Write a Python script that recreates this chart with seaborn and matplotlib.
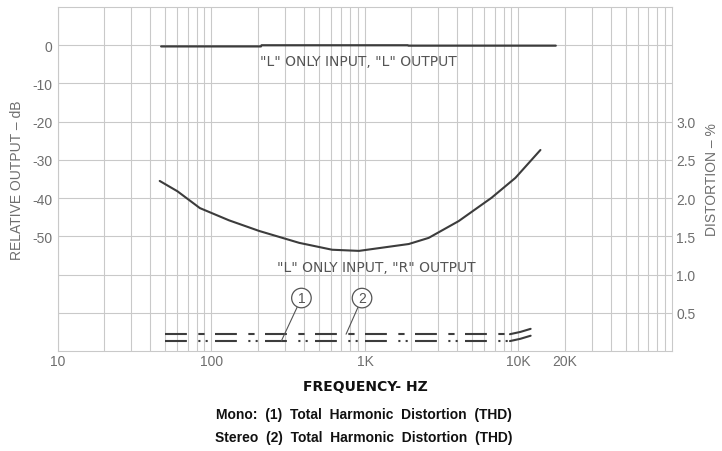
import numpy as np
import pandas as pd
import matplotlib
matplotlib.use("Agg")
import matplotlib.pyplot as plt
from matplotlib.ticker import LogLocator, NullFormatter
import seaborn as sns

# ---- data -------------------------------------------------------------
# "L" only input, "L" output (dB)
ll_freq = [47, 210, 212, 1900, 1920, 17500]
ll_db = [-0.3, -0.3, 0.0, 0.0, -0.1, -0.1]

# "L" only input, "R" output - crosstalk (dB)
lr_freq = [46, 60, 84, 130, 205, 373, 611, 914, 1930, 2600, 4080, 6680, 9550, 13900]
lr_db = [-35.5, -38.2, -42.6, -45.8, -48.6, -51.7, -53.5, -53.8, -52.0, -50.4,
         -46.0, -39.9, -34.7, -27.4]

# THD (%) : mono (1) and stereo (2)
thd_freq = [50, 1000, 8800, 10300, 12000]
thd_mono = [0.13, 0.13, 0.13, 0.16, 0.20]
thd_stereo = [0.22, 0.22, 0.22, 0.25, 0.29]

# axis ticks
x_ticks = [10, 100, 1000, 10000, 20000]
x_labels = ["10", "100", "1K", "10K", "20K"]
db_ticks = [-70, -60, -50, -40, -30, -20, -10, 0]
db_labels = ["", "", "-50", "-40", "-30", "-20", "-10", "0"]
pct_ticks = [0.5, 1.0, 1.5, 2.0, 2.5, 3.0]
pct_labels = ["0.5", "1.0", "1.5", "2.0", "2.5", "3.0"]

# ---- style ------------------------------------------------------------
sns.set_style("white")
plt.rcParams["font.family"] = ["Liberation Sans", "DejaVu Sans"]

GRID = "#c9c9c9"
INK = "#3c3c3c"
TXT = "#6e6e6e"
NOTE = "#555555"
W, H = 722, 452


def fig_xy(px, py):
    """Pixel position (from top-left) to figure fraction."""
    return px / W, 1 - py / H


fig = plt.figure(figsize=(W / 100, H / 100), dpi=100)
ax = fig.add_axes([0.0803, 0.2212, 0.8504, 0.761])

ax.set_xscale("log")
ax.set_xlim(10, 1e5)
ax.set_ylim(-80, 10)

ax.set_xticks(x_ticks)
ax.set_xticklabels(x_labels)
ax.xaxis.set_minor_locator(LogLocator(base=10, subs=np.arange(2, 10), numticks=20))
ax.xaxis.set_minor_formatter(NullFormatter())
ax.set_yticks(db_ticks)
ax.set_yticklabels(db_labels)

ax.grid(True, which="both", axis="x", color=GRID, lw=0.8)
ax.grid(True, which="major", axis="y", color=GRID, lw=0.8)
ax.tick_params(which="both", length=0, colors=TXT, labelsize=10)
ax.tick_params(axis="x", pad=2)
ax.tick_params(axis="y", pad=4)
for s in ax.spines.values():
    s.set_color(GRID)
    s.set_linewidth(0.8)

# response curves
ll = pd.DataFrame({"f": ll_freq, "db": ll_db})
lr = pd.DataFrame({"f": lr_freq, "db": lr_db})
sns.lineplot(data=ll, x="f", y="db", ax=ax, color=INK, lw=1.6, sort=False)
sns.lineplot(data=lr, x="f", y="db", ax=ax, color=INK, lw=1.5, sort=False)

ax.set_xlabel("FREQUENCY- HZ", fontsize=10, fontweight="bold", color="#111111",
              family="DejaVu Sans", labelpad=8)
ax.set_ylabel("RELATIVE OUTPUT \u2013 dB", fontsize=10, color=TXT, labelpad=6)

# distortion scale on the right
ax2 = ax.twinx()
ax2.set_ylim(0, 4.5)
ax2.set_yticks(pct_ticks)
ax2.set_yticklabels(pct_labels)
ax2.tick_params(length=0, colors=TXT, labelsize=10, pad=3)
ax2.grid(False)
for s in ax2.spines.values():
    s.set_visible(False)

thd = pd.DataFrame({"f": thd_freq, "mono": thd_mono, "stereo": thd_stereo})
head = thd.iloc[:3]
tail = thd.iloc[2:]
sns.lineplot(data=head, x="f", y="stereo", ax=ax2, color=INK, lw=1.5,
             linestyle=(0, (10.5, 5.5, 3.0, 5.0)))
sns.lineplot(data=head, x="f", y="mono", ax=ax2, color=INK, lw=1.5,
             linestyle=(0, (10.5, 5.5, 1.0, 2.5, 1.0, 3.5)))
sns.lineplot(data=tail, x="f", y="stereo", ax=ax2, color=INK, lw=1.5)
sns.lineplot(data=tail, x="f", y="mono", ax=ax2, color=INK, lw=1.5)
ax2.set_xlabel("")
ax2.set_ylabel("DISTORTION \u2013 %", fontsize=10, color=TXT, labelpad=7)

fig.text(*fig_xy(358, 62), '"L" ONLY INPUT, "L" OUTPUT', fontsize=10,
         family="DejaVu Sans", color=NOTE, ha="center", va="center")
fig.text(*fig_xy(376, 268), '"L" ONLY INPUT, "R" OUTPUT', fontsize=10,
         family="DejaVu Sans", color=NOTE, ha="center", va="center")

# circled markers with leaders
circ = dict(boxstyle="circle,pad=0.2", fc="white", ec=NOTE, lw=0.9)
lead = dict(arrowstyle="-", color=NOTE, lw=0.8, shrinkA=0, shrinkB=0)
ax2.annotate("1", xy=(285, thd_mono[0]), xytext=(14.5, 31), textcoords="offset points",
             fontsize=10, color=NOTE, ha="center", va="center", bbox=circ,
             arrowprops=lead)
ax2.annotate("2", xy=(753, thd_stereo[0]), xytext=(11.5, 26), textcoords="offset points",
             fontsize=10, color=NOTE, ha="center", va="center", bbox=circ,
             arrowprops=lead)

fig.text(*fig_xy(364, 415), "Mono:  (1)  Total  Harmonic  Distortion  (THD)",
         fontsize=10, fontweight="bold", color="#111111", ha="center", va="center")
fig.text(*fig_xy(364, 438), "Stereo  (2)  Total  Harmonic  Distortion  (THD)",
         fontsize=10, fontweight="bold", color="#111111", ha="center", va="center")

fig.savefig("out.png", dpi=100)
